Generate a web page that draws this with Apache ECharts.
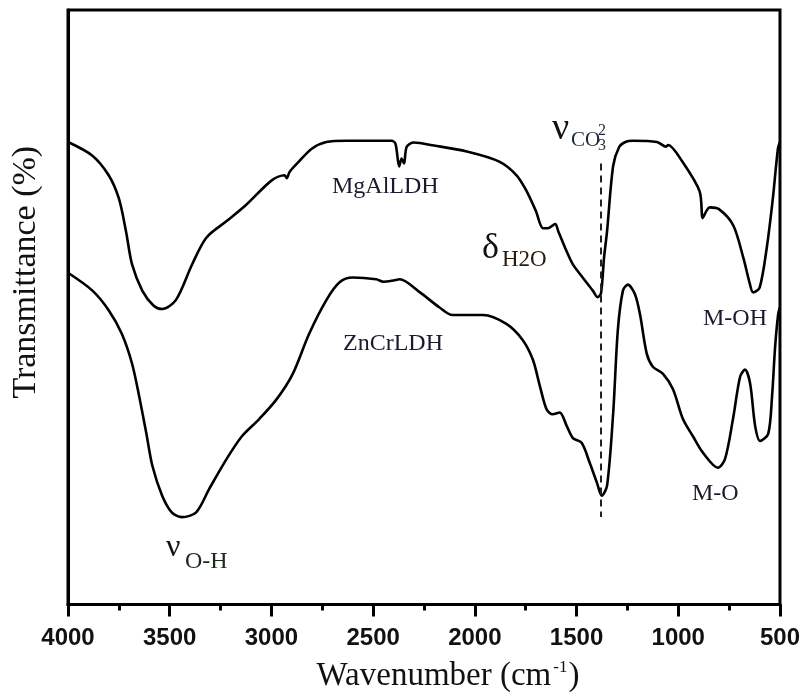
<!DOCTYPE html>
<html>
<head>
<meta charset="utf-8">
<script src="https://cdn.jsdelivr.net/npm/echarts@6/dist/echarts.min.js"></script>
<style>
  html, body { margin: 0; padding: 0; background: #fff; }
  #chart { width: 803px; height: 698px; }
</style>
</head>
<body>
<div id="chart"></div>
<script>
// FTIR spectra of the two layered double hydroxides (transmittance, offset traces)
const mgalWavenumber = [4000, 3880, 3800, 3750, 3715, 3685, 3635, 3580, 3537, 3470, 3390, 3320, 3220, 3125, 3000, 2935, 2925, 2910, 2865, 2800, 2730, 2630, 2410, 2390, 2372, 2360, 2348, 2335, 2300, 2200, 2040, 1880, 1795, 1745, 1700, 1665, 1640, 1605, 1590, 1550, 1518, 1470, 1420, 1397, 1380, 1365, 1350, 1320, 1290, 1260, 1225, 1105, 1060, 1050, 980, 895, 880, 860, 845, 800, 730, 680, 650, 632, 600, 565, 535, 510, 500];
const mgalT = [77.8, 75.5, 72.2, 68.3, 62.8, 57.2, 52.8, 50.3, 49.7, 51.2, 57.2, 61.7, 64.5, 67.2, 71.3, 72.2, 71.7, 72.8, 74.5, 76.7, 77.8, 78.0, 78.0, 77.5, 73.7, 75.0, 74.2, 77.0, 77.7, 77.2, 76.2, 74.5, 72.2, 69.5, 66.2, 63.3, 63.3, 64.0, 62.8, 59.5, 57.2, 55.0, 52.8, 51.7, 52.3, 58.3, 62.8, 73.8, 77.0, 77.8, 78.0, 77.8, 77.0, 77.3, 74.5, 69.5, 65.0, 66.3, 66.8, 66.5, 63.8, 58.3, 54.2, 52.5, 53.3, 60.0, 68.3, 76.7, 77.8];

const zncrWavenumber = [4000, 3880, 3800, 3735, 3685, 3650, 3615, 3585, 3537, 3490, 3440, 3370, 3305, 3220, 3145, 3060, 2975, 2895, 2815, 2730, 2665, 2600, 2485, 2450, 2400, 2370, 2270, 2175, 2110, 1960, 1845, 1765, 1715, 1680, 1647, 1617, 1583, 1548, 1518, 1475, 1435, 1400, 1376, 1350, 1320, 1297, 1272, 1248, 1213, 1188, 1155, 1125, 1075, 1026, 977, 928, 878, 805, 770, 731, 696, 672, 647, 622, 598, 558, 539, 524, 509, 500];
const zncrT = [55.8, 52.8, 49.5, 45.5, 40.5, 35.0, 28.8, 23.3, 18.3, 15.5, 14.7, 15.5, 19.5, 24.5, 28.3, 31.2, 34.5, 38.8, 45.5, 51.2, 54.2, 55.0, 54.7, 54.3, 54.5, 54.7, 52.5, 50.0, 48.7, 48.7, 47.2, 44.5, 41.2, 36.7, 32.8, 32.0, 32.3, 30.0, 28.0, 27.2, 23.8, 20.5, 18.3, 20.0, 32.2, 46.2, 52.8, 53.8, 52.2, 48.8, 42.2, 40.0, 38.8, 36.2, 31.2, 28.3, 25.5, 23.0, 24.5, 31.2, 38.3, 39.5, 37.2, 30.0, 27.5, 28.7, 35.0, 43.3, 48.8, 50.0];

// carbonate stretching band position and the extent of its guide line
const carbonateBand = 1380;
const carbonateSpan = [74.2, 14.7];

const serif = '"Liberation Serif", "Times New Roman", serif';
const ink = '#111';

const pairs = (xs, ys) => xs.map((x, i) => [x, ys[i]]);

const chart = echarts.init(document.getElementById('chart'), null, { renderer: 'canvas' });

// text placed by its left edge and vertical centre
function label(text, x, y, size, color) {
  return {
    type: 'text', x: x, y: y,
    style: {
      text: text,
      font: size + 'px ' + serif,
      fill: color || '#1a1a2e',
      align: 'left',
      verticalAlign: 'middle'
    },
    silent: true
  };
}

chart.setOption({
  animation: false,
  backgroundColor: '#fff',
  grid: {
    left: 68, right: 23, top: 10, bottom: 88,
    show: true, borderColor: '#000', borderWidth: 3, backgroundColor: 'transparent'
  },
  xAxis: {
    type: 'value', inverse: true, min: 500, max: 4000, interval: 500,
    axisLine: { show: true, lineStyle: { color: '#000', width: 3 } },
    axisTick: { show: true, length: 12, lineStyle: { color: '#000', width: 3 } },
    minorTick: { show: true, splitNumber: 2, length: 6, lineStyle: { color: '#000', width: 3 } },
    splitLine: { show: false },
    axisLabel: {
      margin: 22, color: ink,
      fontFamily: '"Liberation Sans", Arial, sans-serif', fontWeight: 'bold', fontSize: 24,
      formatter: v => String(v)
    },
    name: '{a|Wavenumber (cm}{s|-1}{a|)}',
    nameLocation: 'middle', nameGap: 55,
    nameTextStyle: {
      padding: [0, 0, 0, 48],
      rich: {
        a: { fontFamily: serif, fontSize: 33, color: ink, lineHeight: 34 },
        s: { fontFamily: serif, fontSize: 17, color: ink, verticalAlign: 'top', lineHeight: 34, padding: [0, 1, 12, 2] }
      }
    }
  },
  yAxis: {
    type: 'value', min: 0, max: 100,
    axisLine: { show: true, lineStyle: { color: '#000', width: 3 } },
    axisTick: { show: false },
    axisLabel: { show: false },
    splitLine: { show: false },
    name: 'Transmittance (%)',
    nameLocation: 'middle', nameGap: 25,
    nameTextStyle: { fontFamily: serif, fontSize: 34, color: ink, padding: [0, 0, 0, 70] }
  },
  series: [
    {
      name: 'MgAlLDH', type: 'line', data: pairs(mgalWavenumber, mgalT),
      showSymbol: false, smooth: 0.3,
      lineStyle: { color: '#000', width: 2.6 },
      markLine: {
        silent: true, symbol: 'none',
        label: { show: false },
        lineStyle: { color: '#222', width: 2, type: [7, 5] },
        data: [[
          { coord: [carbonateBand, carbonateSpan[0]] },
          { coord: [carbonateBand, carbonateSpan[1]] }
        ]]
      }
    },
    {
      name: 'ZnCrLDH', type: 'line', data: pairs(zncrWavenumber, zncrT),
      showSymbol: false, smooth: 0.3,
      lineStyle: { color: '#000', width: 2.6 }
    }
  ],
  graphic: [
    label('MgAlLDH', 332, 187, 24),
    label('ZnCrLDH', 343, 344, 24),
    label('M-OH', 703, 319, 24),
    label('M-O', 692, 494, 24),
    label('ν', 166, 548, 32, '#111'),
    label('O-H', 185, 562, 24, '#1a2a1a'),
    label('δ', 482, 249, 36, '#111'),
    label('H2O', 502, 260, 23, '#2a1a0a'),
    label('ν', 552, 129, 38, '#111'),
    label('CO', 571, 140, 21, '#1a2a3a'),
    label('2', 598, 131, 16, '#1a2a3a'),
    label('3', 598, 146, 16, '#2a3a1a')
  ]
});
</script>
</body>
</html>
